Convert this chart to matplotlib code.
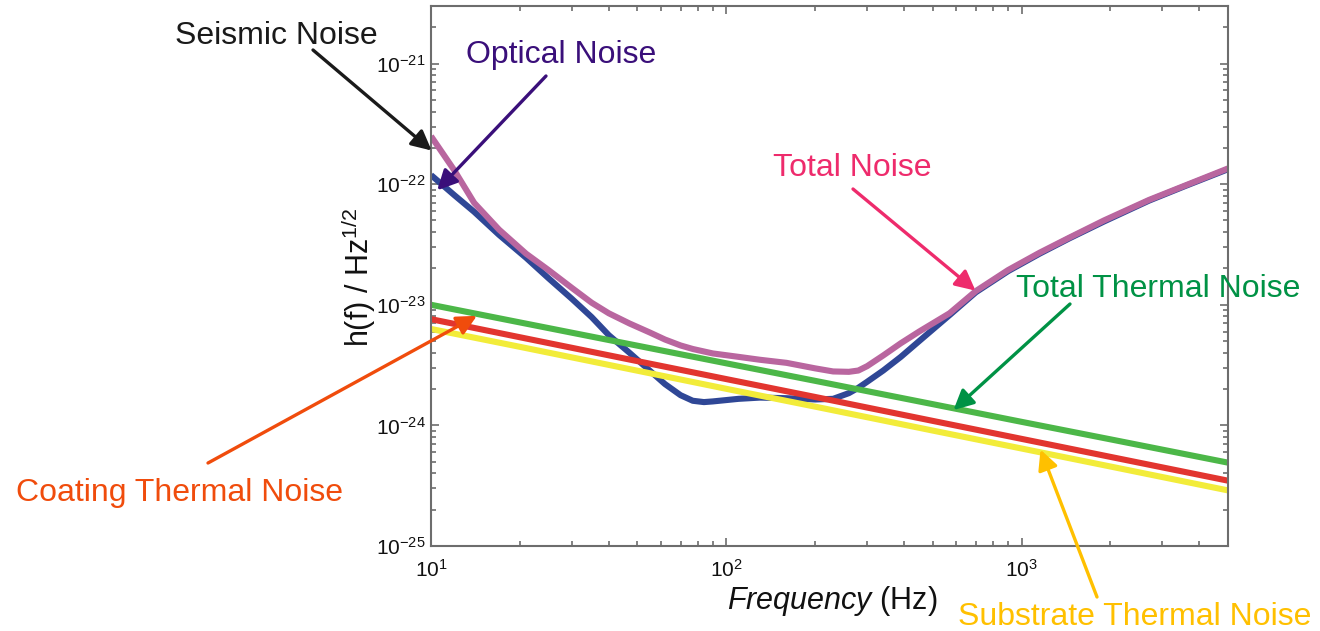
import numpy as np
import matplotlib
matplotlib.use("Agg")
import matplotlib.pyplot as plt
from matplotlib.ticker import LogLocator, NullFormatter

plt.rcParams["font.family"] = ["Liberation Sans", "DejaVu Sans"]
plt.rcParams["mathtext.fontset"] = "custom"
plt.rcParams["mathtext.rm"] = "Liberation Sans"
plt.rcParams["mathtext.it"] = "Liberation Sans:italic"
plt.rcParams["mathtext.bf"] = "Liberation Sans:bold"

# Espectro de ruido (h(f) / Hz^1/2)
freq = [10, 12, 14, 17, 21, 25, 30, 35, 40, 47, 55, 62, 70, 77, 84, 90, 110, 130,
        160, 200, 230, 260, 280, 300, 340, 390, 450, 570, 700, 900, 1150, 1450,
        1900, 2700, 3600, 5000]
total_noise = [2.5e-22, 1.3e-22, 7.0e-23, 4.2e-23, 2.65e-23, 1.94e-23, 1.38e-23,
               1.04e-23, 8.5e-24, 7.0e-24, 5.9e-24, 5.15e-24, 4.6e-24, 4.3e-24,
               4.1e-24, 3.95e-24, 3.7e-24, 3.5e-24, 3.3e-24, 2.97e-24, 2.8e-24,
               2.78e-24, 2.85e-24, 3.1e-24, 3.8e-24, 4.8e-24, 6.0e-24, 8.5e-24,
               1.3e-23, 1.94e-23, 2.7e-23, 3.6e-23, 5.0e-23, 7.4e-23, 9.8e-23,
               1.35e-22]
optical_noise = [1.19e-22, 8.1e-23, 5.9e-23, 3.8e-23, 2.45e-23, 1.66e-23, 1.12e-23,
                 7.9e-24, 5.6e-24, 4.0e-24, 2.85e-24, 2.2e-24, 1.78e-24, 1.6e-24,
                 1.56e-24, 1.58e-24, 1.66e-24, 1.7e-24, 1.68e-24, 1.64e-24, 1.66e-24,
                 1.85e-24, 2.05e-24, 2.3e-24, 2.85e-24, 3.7e-24, 5.0e-24, 8.2e-24,
                 1.27e-23, 1.9e-23, 2.65e-23, 3.55e-23, 4.9e-23, 7.3e-23, 9.7e-23,
                 1.33e-22]

freq_th = [10, 20, 50, 100, 200, 500, 1000, 2000, 5000]
total_thermal = [1.0e-23, 7.14e-24, 4.58e-24, 3.27e-24, 2.34e-24, 1.50e-24,
                 1.07e-24, 7.66e-25, 4.91e-25]
coating_thermal = [7.6e-24, 5.38e-24, 3.41e-24, 2.42e-24, 1.72e-24, 1.09e-24,
                   7.73e-25, 5.48e-25, 3.48e-25]
substrate_thermal = [6.3e-24, 4.48e-24, 2.84e-24, 2.01e-24, 1.43e-24, 9.06e-25,
                     6.43e-25, 4.56e-25, 2.89e-25]

x_ticks = [10, 100, 1000]
y_ticks = [1e-25, 1e-24, 1e-23, 1e-22, 1e-21]

W, H = 1320, 631
fig = plt.figure(figsize=(W / 100, H / 100), dpi=100)
ax = fig.add_axes([431 / W, (H - 546) / H, (1228 - 431) / W, (546 - 6) / H])

lw = 4.4
ax.plot(freq, optical_noise, color="#2f4796", lw=lw, solid_capstyle="butt")
ax.plot(freq, total_noise, color="#b9669f", lw=lw, solid_capstyle="butt")
ax.plot(freq_th, total_thermal, color="#4cb748", lw=lw, solid_capstyle="butt")
ax.plot(freq_th, coating_thermal, color="#e2352f", lw=lw, solid_capstyle="butt")
ax.plot(freq_th, substrate_thermal, color="#f2ec3a", lw=lw, solid_capstyle="butt")

ax.set_xscale("log")
ax.set_yscale("log")
ax.set_xlim(10, 5000)
ax.set_ylim(1e-25, 3e-21)
ax.set_xticks(x_ticks)
ax.set_yticks(y_ticks)
ax.yaxis.set_minor_locator(LogLocator(base=10, subs=np.arange(2, 10), numticks=20))
ax.xaxis.set_minor_locator(LogLocator(base=10, subs=np.arange(2, 10), numticks=20))
ax.xaxis.set_minor_formatter(NullFormatter())
ax.yaxis.set_minor_formatter(NullFormatter())

for s in ax.spines.values():
    s.set_color("#6d6d6d")
    s.set_linewidth(1.5)
ax.tick_params(which="both", direction="in", top=True, right=True,
               color="#6d6d6d", width=1.2, labelsize=15, labelcolor="#111111")
ax.tick_params(which="major", length=6)
ax.tick_params(which="minor", length=3.5)
ax.tick_params(axis="x", pad=9)
ax.tick_params(axis="y", pad=4)

fig.text(832 / W, 1 - 609 / H, r"$\mathit{Frequency}$ (Hz)", fontsize=22,
         ha="center", va="baseline", color="#111111")
fig.text(358 / W, 1 - 277 / H, r"h(f) / Hz$^{1/2}$", fontsize=22, rotation=90,
         ha="center", va="center", color="#111111")

# Etiquetas con flechas: (texto, color, centro del texto, línea base, cola, punta)
labels = [
    ("Seismic Noise", "#1a1a1a", 276, 44, (313, 50), (10.05, 1.9e-22)),
    ("Optical Noise", "#3a0f7a", 561, 63, (546, 76), (10.5, 8.9e-23)),
    ("Total Noise", "#ee2b6c", 852, 176, (853, 189), (698, 1.31e-23)),
    ("Total Thermal Noise", "#009245", 1158, 297, (1070, 304), (588, 1.34e-24)),
    ("Coating Thermal Noise", "#f04c0c", 180, 501, (208, 463), (14.3, 8.1e-24)),
    ("Substrate Thermal Noise", "#ffc000", 1135, 625, (1097, 597), (1159, 6.3e-25)),
]
for text, col, tx, ty, tail, tip in labels:
    fig.text(tx / W, 1 - ty / H, text, fontsize=23, color=col,
             ha="center", va="baseline")
    ax.annotate("", xy=tip, xycoords="data",
                xytext=(tail[0], H - tail[1]), textcoords="figure pixels",
                arrowprops=dict(arrowstyle="-|>", color=col, lw=2.4,
                                mutation_scale=30, shrinkA=0, shrinkB=0),
                annotation_clip=False)

fig.savefig("out.png", dpi=100)
